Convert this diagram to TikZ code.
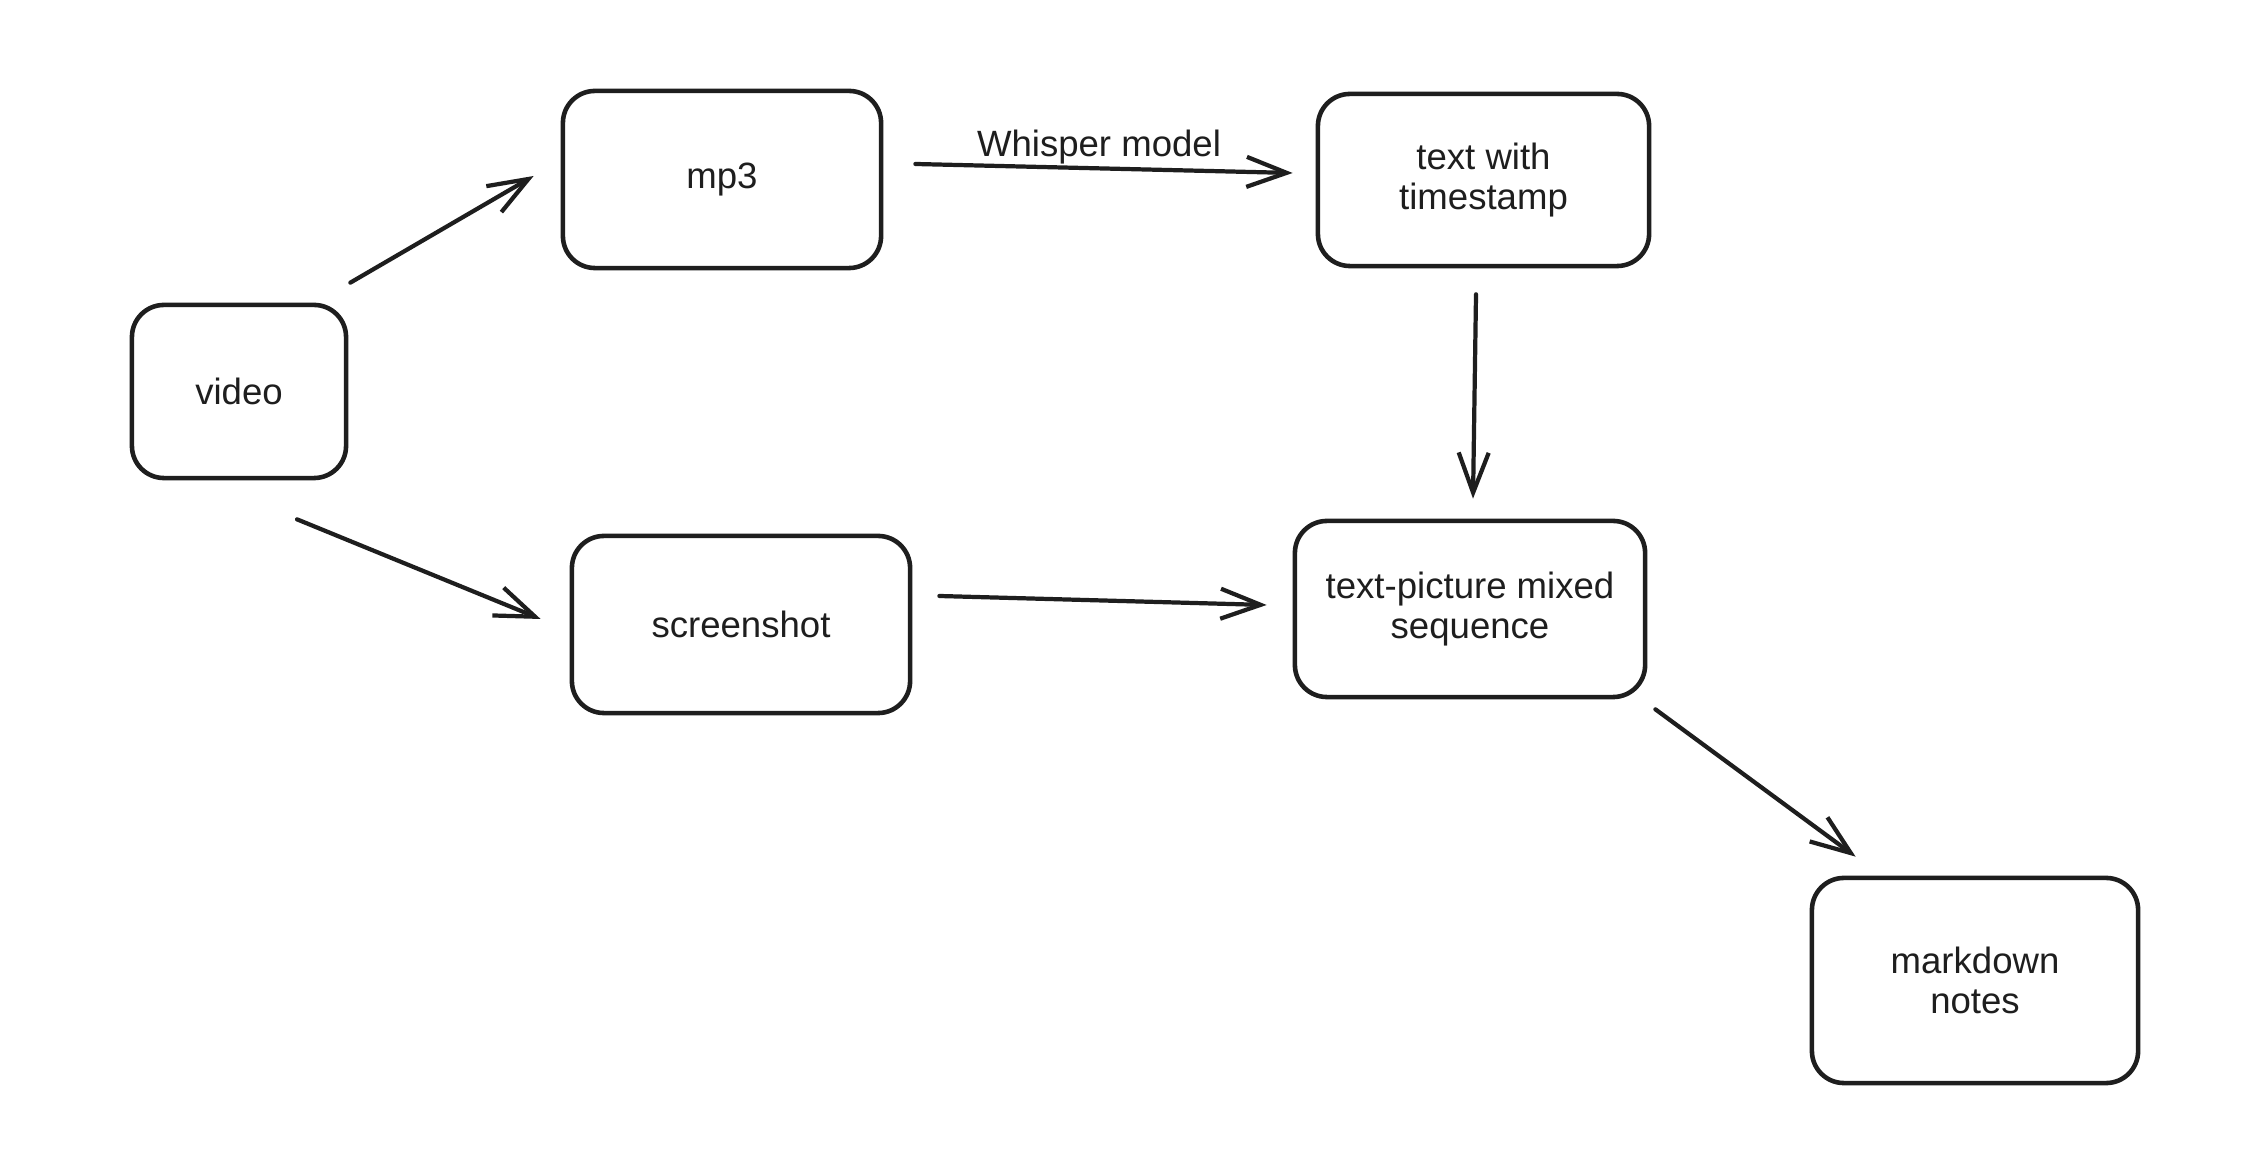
\documentclass[tikz,border=0pt]{standalone}
\usepackage{fontspec}
\setmainfont{Liberation Sans}
\usetikzlibrary{arrows.meta,calc}
\definecolor{ink}{HTML}{1E1E1E}
\begin{document}
\begin{tikzpicture}[x=0.01cm,y=-0.01cm,
  box/.style={draw=ink,line width=1.3pt,rounded corners=0.32cm,
    align=center,inner sep=0pt,font=\fontsize{10.4}{11.6}\selectfont,text=ink},
  flow/.style={draw=ink,line width=1.2pt,line cap=round,
    -{Straight Barb[length=4mm,width=3mm,line width=1.2pt]}}]
\useasboundingbox[fill=white] (0,0) rectangle (2258,1168);

% boxes
\node[box,minimum width=2.14cm,minimum height=1.73cm] (video) at (239,391.5) {\raisebox{-0.4ex}{video}};
\node[box,minimum width=3.18cm,minimum height=1.77cm] (mp3) at (722,179.5) {\raisebox{-0.4ex}{mp3}};
\node[box,minimum width=3.38cm,minimum height=1.77cm] (shot) at (741,624.5) {\raisebox{-0.4ex}{screenshot}};
\node[box,minimum width=3.31cm,minimum height=1.72cm] (stamp) at (1483.5,180) {text with\\timestamp};
\node[box,minimum width=3.50cm,minimum height=1.76cm] (mixed) at (1470,609) {text-picture mixed\\sequence};
\node[box,minimum width=3.26cm,minimum height=2.05cm] (notes) at (1975,980.5) {markdown\\notes};

% connectors
\draw[flow] ($(video.north east)+(2,-20)$) -- ($(mp3.west)+(-27,-3.5)$);
\draw[flow] ($(video.south)+(58,39)$) -- ($(shot.west)+(-29,-5.5)$);
\draw[flow] ($(mp3.east)+(32,-15.5)$) -- ($(stamp.west)+(-23,-7)$);
\draw[flow] ($(stamp.south)+(-7.5,26)$) -- ($(mixed.north)+(3,-20)$);
\draw[flow] ($(shot.east)+(27,-28.5)$) -- ($(mixed.west)+(-26,-4)$);
\draw[flow] ($(mixed.south east)+(8,10)$) -- ($(notes.north west)+(46,-19)$);

\node[font=\fontsize{10.4}{12}\selectfont,text=ink,inner sep=0pt] (whisper) at (1099,147) {Whisper model};
\end{tikzpicture}
\end{document}
